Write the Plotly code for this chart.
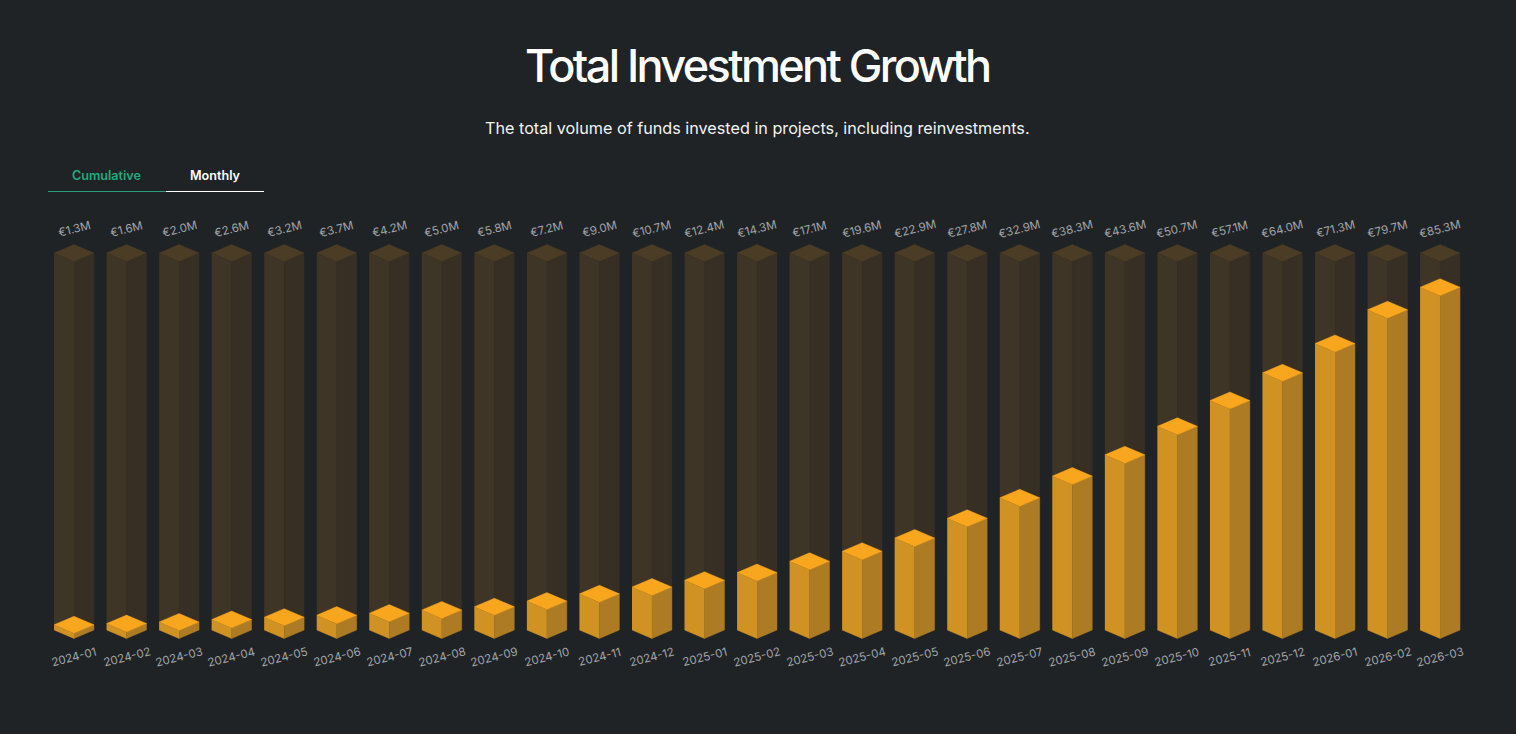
import plotly.graph_objects as go

# data
months = ['2024-01','2024-02','2024-03','2024-04','2024-05','2024-06','2024-07','2024-08','2024-09',
          '2024-10','2024-11','2024-12','2025-01','2025-02','2025-03','2025-04','2025-05','2025-06',
          '2025-07','2025-08','2025-09','2025-10','2025-11','2025-12','2026-01','2026-02','2026-03']
totals = [1.3,1.6,2.0,2.6,3.2,3.7,4.2,5.0,5.8,7.2,9.0,10.7,12.4,14.3,17.1,19.6,22.9,27.8,
          32.9,38.3,43.6,50.7,57.1,64.0,71.3,79.7,85.3]
value_labels = ['€' + str(v) + 'M' for v in totals]

# the background column runs a bit above the largest value
track_max = max(totals)*1.1

half_w = 0.38  # half a bar, in category units
half_d = 2.12  # half the height of the top diamond, in value units

BG = '#1f2326'


def faces(values):
    # three faces of each isometric column
    front_x, front_y, side_x, side_y, top_x, top_y = [], [], [], [], [], []
    for i, v in enumerate(values):
        front_x += [i-half_w, i, i, i-half_w, None]
        front_y += [0, -half_d, v-half_d, v, None]
        side_x += [i, i+half_w, i+half_w, i, None]
        side_y += [-half_d, 0, v, v-half_d, None]
        top_x += [i-half_w, i, i+half_w, i, None]
        top_y += [v, v+half_d, v, v-half_d, None]
    return (front_x, front_y), (side_x, side_y), (top_x, top_y)


def add_faces(fig, values, colours):
    # thin line in the fill colour closes the seam between faces
    for (x, y), col in zip(faces(values), colours):
        fig.add_trace(go.Scatter(x=x, y=y, mode='lines', fill='toself', fillcolor=col,
                                 line=dict(width=0.4, color=col), hoverinfo='skip', showlegend=False))


fig = go.Figure()
add_faces(fig, [track_max]*len(totals), ['#3f3526', '#372f24', '#4a3c25'])
add_faces(fig, totals, ['#d09222', '#ad7b24', '#f9a61f'])

# value labels above the columns, month labels below
annotations = []
for i, lab in enumerate(value_labels):
    annotations.append(dict(x=i, y=track_max, text=lab, showarrow=False, textangle=-14, yshift=24,
                            font=dict(family='Inter', size=11.5, color='#a2a4a6')))
for i, lab in enumerate(months):
    annotations.append(dict(x=i, y=0, text=lab, showarrow=False, textangle=-14, yshift=-27,
                            font=dict(family='Inter', size=11.5, color='#a2a4a6')))

# subtitle and tabs
annotations.append(dict(xref='paper', yref='paper', x=757/1516, xanchor='center', y=1.0, yshift=84,
                        showarrow=False,
                        text='The total volume of funds invested in projects, including reinvestments.',
                        font=dict(family='Inter', size=16.2, color='#f2f3f3')))
annotations.append(dict(xref='paper', yref='paper', x=106.5/1516, xanchor='center', y=1.0, yshift=34,
                        showarrow=False, text='Cumulative',
                        font=dict(family='Inter', size=12.6, weight=600, color='#1fa97f')))
annotations.append(dict(xref='paper', yref='paper', x=215/1516, xanchor='center', y=1.0, yshift=34,
                        showarrow=False, text='Monthly',
                        font=dict(family='Inter', size=12.6, weight=600, color='#ffffff')))

fig.update_layout(
    width=1516, height=734,
    margin=dict(l=0, r=0, t=200, b=89),
    paper_bgcolor=BG, plot_bgcolor=BG,
    title=dict(text='Total Investment Growth', x=0.4995, xanchor='center', y=0.91, yanchor='middle',
               font=dict(family='Inter', size=45, weight=500, color='#ffffff')),
    annotations=annotations,
    shapes=[
        dict(type='line', xref='paper', yref='paper', x0=48/1516, x1=166/1516, y0=1.0191, y1=1.0191,
             line=dict(color='#2a9d7c', width=1)),
        dict(type='line', xref='paper', yref='paper', x0=166/1516, x1=264/1516, y0=1.0191, y1=1.0191,
             line=dict(color='#ffffff', width=1)),
    ],
    xaxis=dict(range=[-1.4085, 27.445], showticklabels=False, showgrid=False, zeroline=False,
               showline=False, ticks=''),
    yaxis=dict(range=[-3.73, 107], visible=False, showgrid=False, zeroline=False),
)

# tighter title spacing, plotly has no option for it
fig.write_html("out.html", config=dict(displayModeBar=False),
               post_script="document.body.style.margin='0';"
                           "document.querySelector('.gtitle').style.letterSpacing='-2.6px';")
